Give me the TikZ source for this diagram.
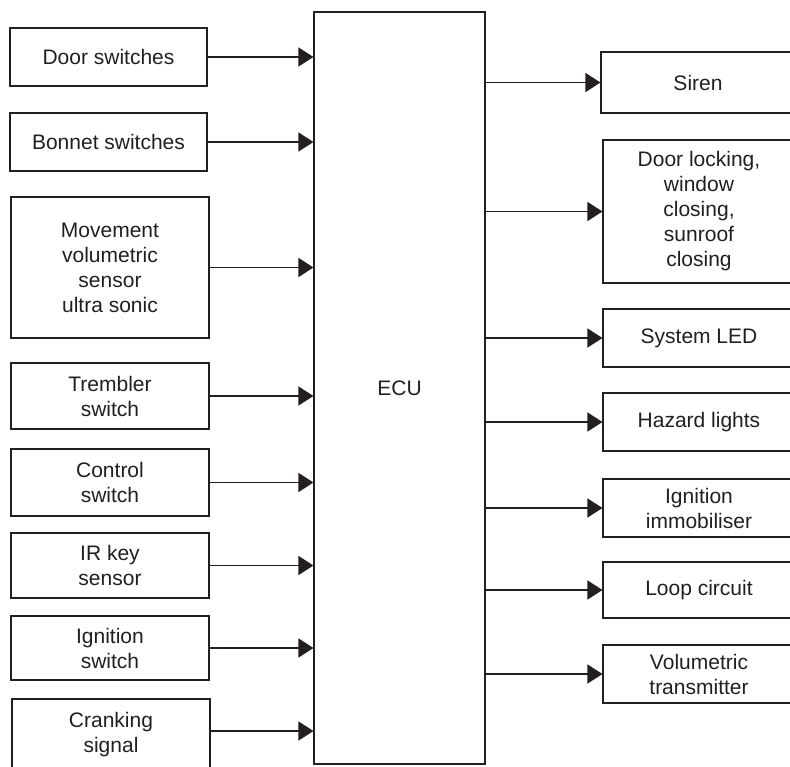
\documentclass[tikz,border=0pt]{standalone}
\usepackage{fontspec}
\setmainfont{Liberation Sans}
\usetikzlibrary{arrows.meta}
\definecolor{ink}{HTML}{231F20}
\begin{document}
\begin{tikzpicture}[x=1pt,y=-1pt,
  box/.style={draw=ink, line width=1.1pt, rectangle, inner sep=0pt, align=center,
    text=ink, font=\fontsize{21}{25}\selectfont},
  arr/.style={draw=ink, line width=1.1pt, -{Triangle[length=15pt,width=19pt]}}]
\useasboundingbox (0,0) rectangle (790,766);
\clip (0,0) rectangle (790,766);
\fill[white] (0,0) rectangle (790,766);
% ECU
\node[box, minimum width=171pt, minimum height=752pt] (ecu) at (399.5,388) {ECU};
% inputs
\node[box, minimum width=197pt, minimum height=58pt] (door) at (108.5,57) {Door switches};
\node[box, minimum width=197pt, minimum height=58pt] (bonnet) at (108.5,142) {Bonnet switches};
\node[box, minimum width=198pt, minimum height=141pt] (move) at (110,267.5) {Movement\\volumetric\\sensor\\ultra sonic};
\node[box, minimum width=198pt, minimum height=66pt] (tremb) at (110,396) {Trembler\\switch};
\node[box, minimum width=198pt, minimum height=67pt] (ctrl) at (110,482.5) {Control\\switch};
\node[box, minimum width=198pt, minimum height=65pt] (irkey) at (110,565.5) {IR key\\sensor};
\node[box, minimum width=198pt, minimum height=64pt] (ignsw) at (110,648) {Ignition\\switch};
\node[box, minimum width=198pt, minimum height=72pt] (crank) at (111,735) {Cranking\\signal};
% outputs
\node[box, minimum width=194pt, minimum height=61pt] (siren) at (698,82.5) {Siren};
\node[box, minimum width=192pt, minimum height=143pt] (lock) at (699,211.5) {Door locking,\\window\\closing,\\sunroof\\closing};
\node[box, minimum width=192pt, minimum height=58pt] (led) at (699,338) {System LED};
\node[box, minimum width=192pt, minimum height=58pt] (hazard) at (699,422) {Hazard lights};
\node[box, minimum width=192pt, minimum height=58pt] (immob) at (699,508) {Ignition\\immobiliser};
\node[box, minimum width=192pt, minimum height=56pt] (loop) at (699,590) {Loop circuit};
\node[box, minimum width=192pt, minimum height=58pt] (voltx) at (699,674) {Volumetric\\transmitter};
% input arrows
\foreach \n in {door,bonnet,move,tremb,ctrl,irkey,ignsw}
  \draw[arr] (\n.east) -- (\n.east -| ecu.west);
\draw[arr] ([yshift=4pt]crank.east) -- ([yshift=4pt]crank.east -| ecu.west);
% output arrows
\foreach \n in {siren,lock,led,hazard,immob,loop,voltx}
  \draw[arr] (\n.west -| ecu.east) -- (\n.west);
\end{tikzpicture}
\end{document}
